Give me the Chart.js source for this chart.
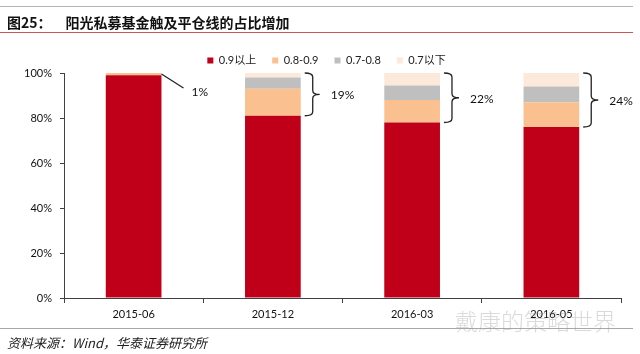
<!DOCTYPE html>
<html>
<head>
<meta charset="utf-8">
<script src="https://cdn.jsdelivr.net/npm/chart.js@4.4.1/dist/chart.umd.min.js"></script>
<style>
  body { margin: 0; background: #fff; }
  #wrap { position: relative; width: 640px; height: 354px; overflow: hidden; font-family: "Noto Sans CJK SC", sans-serif; }
  #chart { position: absolute; left: 0; top: 0; }
  .rule { position: absolute; left: 0; width: 633px; height: 0; }
  #title { position: absolute; left: 7px; top: 13px; font-size: 14px; line-height: 19px; font-weight: bold; color: #111; white-space: nowrap; }
  #title span { margin-left: 14px; font-weight: 600; }
  #source { position: absolute; left: 7px; top: 334px; font-size: 13px; line-height: 17px; font-style: italic; color: #222; white-space: nowrap; }
  #mark { position: absolute; left: 455px; top: 306px; font-size: 23px; line-height: 28px; font-weight: 300; color: rgba(150,150,150,0.35); white-space: nowrap; }
</style>
</head>
<body>
<div id="wrap">
  <canvas id="chart" width="640" height="354"></canvas>
  <div class="rule" style="top:6px;border-top:1px solid #b4b4b4;"></div>
  <div id="title">图25：<span>阳光私募基金触及平仓线的占比增加</span></div>
  <div class="rule" style="top:32px;border-top:1px solid #c9575a;"></div>
  <div class="rule" style="top:328px;border-top:1px solid #a8a8a8;"></div>
  <div id="source">资料来源：Wind，华泰证券研究所</div>
  <div id="mark">戴康的策略世界</div>
</div>
<script>
document.addEventListener("DOMContentLoaded", function () {
  const categories = ["2015-06", "2015-12", "2016-03", "2016-05"];
  const seriesNames = ["0.9以上", "0.8-0.9", "0.7-0.8", "0.7以下"];
  const above09 = [99, 81, 78, 76];
  const from08to09 = [1, 12, 10, 11];
  const from07to08 = [0, 5, 6.5, 7];
  const below07 = [0, 2, 5.5, 6];
  const shareLabels = ["1%", "19%", "22%", "24%"];
  const yTicks = [0, 20, 40, 60, 80, 100];

  const colors = ["#c00018", "#fac090", "#bfbfbf", "#fde9d9"];
  const font = "Lato, 'Noto Sans CJK SC', sans-serif";

  // shrink legend height so the plot starts right under it
  const legendFitter = {
    id: "legendFitter",
    beforeInit(chart) {
      const fit = chart.legend.fit;
      chart.legend.fit = function () {
        fit.call(this);
        this.height = 34;
      };
    },
    afterLayout(chart) {
      chart.legend.left += 16;
      chart.legend.right += 16;
    }
  };

  // braces and the share labels to the right of each bar
  const shareNotes = {
    id: "shareNotes",
    afterDatasetsDraw(chart) {
      const ctx = chart.ctx;
      const y = chart.scales.y;
      const meta = chart.getDatasetMeta(0);
      ctx.save();
      ctx.strokeStyle = "#222";
      ctx.lineWidth = 1.3;
      ctx.fillStyle = "#111";
      ctx.font = "12px " + font;
      ctx.textBaseline = "middle";
      categories.forEach((c, i) => {
        const bar = meta.data[i];
        const right = bar.x + bar.width / 2;
        const top = y.getPixelForValue(100);
        const bot = y.getPixelForValue(above09[i]);
        if (i === 0) {
          ctx.beginPath();
          ctx.moveTo(right, top + 1);
          ctx.lineTo(right + 22, top + 15);
          ctx.stroke();
          ctx.fillText(shareLabels[i], right + 30, top + 19);
          return;
        }
        const x0 = right + 4, x1 = right + 12, x2 = right + 19;
        const mid = (top + bot) / 2;
        ctx.beginPath();
        ctx.moveTo(x0, top);
        ctx.quadraticCurveTo(x1, top, x1, top + 4);
        ctx.lineTo(x1, mid - 4);
        ctx.quadraticCurveTo(x1, mid, x2, mid);
        ctx.quadraticCurveTo(x1, mid, x1, mid + 4);
        ctx.lineTo(x1, bot - 4);
        ctx.quadraticCurveTo(x1, bot, x0, bot);
        ctx.stroke();
        ctx.fillText(shareLabels[i], right + 30, mid + 1);
      });
      ctx.restore();
    }
  };

  const seriesData = [above09, from08to09, from07to08, below07];

  new Chart(document.getElementById("chart"), {
    type: "bar",
    data: {
      labels: categories,
      datasets: seriesData.map((d, i) => ({
        label: seriesNames[i],
        data: d,
        backgroundColor: colors[i],
        borderWidth: 0,
        categoryPercentage: 1,
        barPercentage: 0.4
      }))
    },
    options: {
      responsive: false,
      animation: false,
      layout: { padding: { top: 39, right: 19, bottom: 26, left: 0 } },
      plugins: {
        tooltip: { enabled: false },
        legend: {
          position: "top",
          labels: {
            boxWidth: 6,
            boxHeight: 6,
            padding: 16,
            color: "#222",
            font: { size: 11, family: font }
          }
        }
      },
      scales: {
        x: {
          stacked: true,
          afterFit(s) { s.height = 30; },
          border: { color: "#404040", width: 1 },
          grid: { drawOnChartArea: false, tickLength: 5, color: "#404040", offset: true },
          ticks: { color: "#111", padding: 5, font: { size: 11, family: font } }
        },
        y: {
          stacked: true,
          min: 0,
          max: 100,
          afterFit(s) { s.width = 64; },
          afterBuildTicks(s) { s.ticks = yTicks.map(v => ({ value: v })); },
          border: { color: "#404040", width: 1 },
          grid: { drawOnChartArea: false, tickLength: 4, color: "#404040" },
          ticks: {
            color: "#111",
            padding: 8,
            font: { size: 11, family: font },
            callback: v => v + "%"
          }
        }
      }
    },
    plugins: [legendFitter, shareNotes]
  });
});
</script>
</body>
</html>
